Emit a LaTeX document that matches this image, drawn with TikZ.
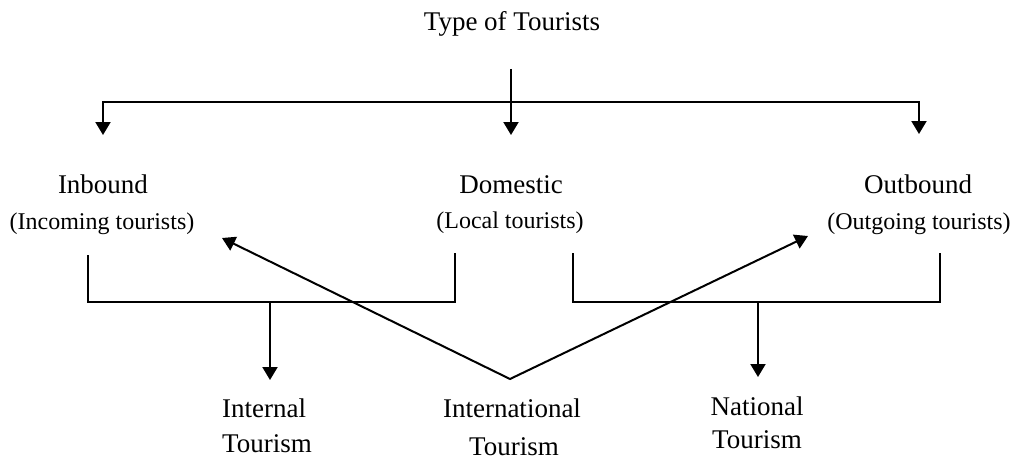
\documentclass[tikz,border=0pt]{standalone}
\usepackage{fontspec}
\setmainfont{Liberation Serif}
\usetikzlibrary{arrows.meta}
\begin{document}
\begin{tikzpicture}[x=1pt,y=-1pt,
  lbl/.style={inner sep=0pt,anchor=base,font=\fontsize{27}{32}\selectfont},
  sub/.style={inner sep=0pt,anchor=base,font=\fontsize{24}{28}\selectfont},
  bot/.style={inner sep=0pt,anchor=base west,font=\fontsize{27}{32}\selectfont},
  botc/.style={inner sep=0pt,anchor=base,font=\fontsize{27}{32}\selectfont},
  thick line/.style={line width=2pt,line join=miter},
  thin line/.style={line width=1.5pt,line join=miter},
  tipd/.style={-{Triangle[length=13pt,width=15pt]}},
  tipb/.style={{Triangle[length=13pt,width=15pt]}-{Triangle[length=13pt,width=15pt]}}
]
\useasboundingbox (0,0) rectangle (1015,460);
% texts
\node[lbl] (title) at (512,31) {Type of Tourists};
\node[lbl] (inb) at (103,193) {Inbound};
\node[sub] (inbs) at (102,229) {(Incoming tourists)};
\node[lbl] (dom) at (511,193) {Domestic};
\node[sub] (doms) at (510,228) {(Local tourists)};
\node[lbl] (outb) at (918,193) {Outbound};
\node[sub] (outbs) at (919,229) {(Outgoing tourists)};
\node[bot] (intA) at (222,417) {Internal};
\node[bot] (intB) at (222,452) {Tourism};
\node[botc] (itlA) at (512,417) {International};
\node[botc] (itlB) at (514,455) {Tourism};
\node[botc] (natA) at (757,415) {National};
\node[botc] (natB) at (757,448) {Tourism};
% coordinates
\coordinate (tstart) at (511,69);
\coordinate (domtip) at (511,135);
\coordinate (intip) at (103,135);
\coordinate (inc) at (103,102);
\coordinate (outc) at (919,102);
\coordinate (outtip) at (919,134);
\coordinate (lb1) at (88,255);
\coordinate (lb2) at (88,302);
\coordinate (lb3) at (455,302);
\coordinate (lb4) at (455,253);
\coordinate (lstem) at (270,303);
\coordinate (ltip) at (270,380);
\coordinate (rb1) at (573,253);
\coordinate (rb2) at (573,302);
\coordinate (rb3) at (940,302);
\coordinate (rb4) at (940,253);
\coordinate (rstem) at (758,303);
\coordinate (rtip) at (758,377);
\coordinate (apex) at (510,379);
\coordinate (dl) at (222,238);
\coordinate (dr) at (808,236);
% top tree
\draw[thick line,tipd] (tstart) -- (domtip);
\draw[thick line,tipb] (intip) -- (inc) -- (outc) -- (outtip);
% brackets
\draw[thin line] (lb1) -- (lb2) -- (lb3) -- (lb4);
\draw[thin line] (rb1) -- (rb2) -- (rb3) -- (rb4);
\draw[thick line,tipd] (lstem) -- (ltip);
\draw[thick line,tipd] (rstem) -- (rtip);
% diagonals
\draw[thick line,tipb] (dl) -- (apex) -- (dr);
\end{tikzpicture}
\end{document}
